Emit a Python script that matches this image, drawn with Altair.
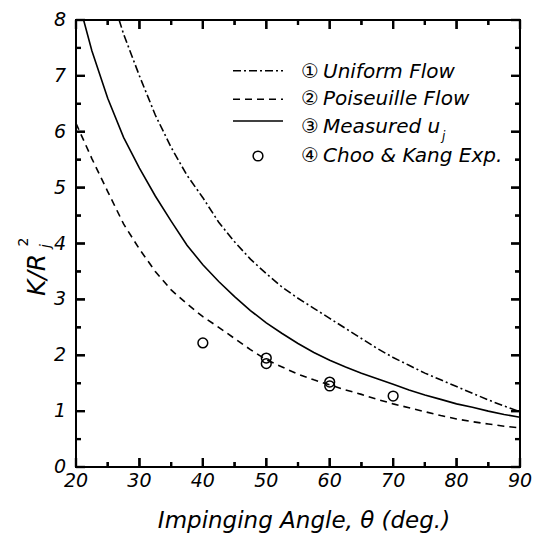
import altair as alt
import pandas as pd

# ---------------- data ----------------
theta_uniform = [26.8, 27.5, 30, 32.5, 35, 37.5, 40, 42.5, 45, 47.5, 50, 52.5, 55, 57.5,
                 60, 62.5, 65, 67.5, 70, 72.5, 75, 77.5, 80, 82.5, 85, 87.5, 90]
k_uniform = [8.0, 7.75, 7.0, 6.3, 5.72, 5.22, 4.82, 4.38, 4.03, 3.72, 3.46, 3.22, 3.02, 2.84,
             2.66, 2.48, 2.30, 2.12, 1.96, 1.82, 1.68, 1.56, 1.44, 1.32, 1.20, 1.09, 0.99]

theta_pois = [20, 22.5, 25, 27.5, 30, 32.5, 35, 37.5, 40, 42.5, 45, 47.5, 50, 52.5, 55, 57.5,
              60, 62.5, 65, 67.5, 70, 72.5, 75, 77.5, 80, 82.5, 85, 87.5, 90]
k_pois = [6.15, 5.52, 4.93, 4.35, 3.90, 3.50, 3.17, 2.92, 2.69, 2.50, 2.30, 2.10, 1.92, 1.79, 1.66, 1.56,
          1.47, 1.38, 1.30, 1.21, 1.13, 1.06, 0.99, 0.92, 0.86, 0.81, 0.77, 0.73, 0.70]

theta_meas = [21.2, 22.5, 25, 27.5, 30, 32.5, 35, 37.5, 40, 42.5, 45, 47.5, 50, 52.5, 55, 57.5,
              60, 62.5, 65, 67.5, 70, 72.5, 75, 77.5, 80, 82.5, 85, 87.5, 90]
k_meas = [8.0, 7.45, 6.6, 5.9, 5.35, 4.85, 4.40, 3.97, 3.62, 3.32, 3.05, 2.80, 2.58, 2.39, 2.21, 2.05,
          1.91, 1.79, 1.68, 1.58, 1.48, 1.38, 1.29, 1.21, 1.13, 1.07, 1.00, 0.94, 0.89]

theta_exp = [40, 50, 50, 60, 60, 70]
k_exp = [2.22, 1.95, 1.85, 1.52, 1.45, 1.27]

x_major = [20, 30, 40, 50, 60, 70, 80, 90]
x_minor = [25, 35, 45, 55, 65, 75, 85]
y_major = [0, 1, 2, 3, 4, 5, 6, 7, 8]
y_minor = [0.5, 1.5, 2.5, 3.5, 4.5, 5.5, 6.5, 7.5]
x_lo, x_hi = 20, 90
y_lo, y_hi = 0, 8

legend_nums = ["\u2460", "\u2461", "\u2462", "\u2463"]
legend_labels = ["Uniform Flow", "Poiseuille Flow", "Measured u", "Choo & Kang Exp."]
x_title = "Impinging Angle, \u03b8 (deg.)"

# ---------------- layout ----------------
W, H = 444, 447
FONT = "DejaVu Sans"
MAJ, MIN = 9, 5  # tick lengths in pixels
TICK_W = 2.2

xs = alt.Scale(domain=[x_lo, x_hi], nice=False, zero=False)
ys = alt.Scale(domain=[y_lo, y_hi], nice=False, zero=True)
X = alt.X("theta:Q", scale=xs, axis=None)
Y = alt.Y("K:Q", scale=ys, axis=None)

layers = []


def line_layer(th, k, dash=None):
    df = pd.DataFrame({"theta": th, "K": k})
    kw = dict(color="black", strokeWidth=1.6, clip=True)
    if dash:
        kw["strokeDash"] = dash
    return alt.Chart(df).mark_line(**kw).encode(x=X, y=Y)


layers.append(line_layer(theta_pois, k_pois, [7, 5]))
layers.append(line_layer(theta_uniform, k_uniform, [8, 3, 2, 3]))
layers.append(line_layer(theta_meas, k_meas))

layers.append(
    alt.Chart(pd.DataFrame({"theta": theta_exp, "K": k_exp}))
    .mark_point(shape="circle", filled=False, size=95, color="black", strokeWidth=1.5, opacity=1)
    .encode(x=X, y=Y)
)

# ---------------- tick labels and x title (drawn through the scales) ----------------
lab_x = pd.DataFrame({"theta": x_major, "lab": [str(v) for v in x_major]})
layers.append(alt.Chart(lab_x).mark_text(
    font=FONT, fontStyle="italic", fontSize=19, color="black", align="center", baseline="top")
    .encode(x=X, y=alt.value(H + 5), text="lab:N"))

lab_y = pd.DataFrame({"K": y_major, "lab": [str(v) for v in y_major]})
layers.append(alt.Chart(lab_y).mark_text(
    font=FONT, fontStyle="italic", fontSize=19, color="black", align="right", baseline="middle")
    .encode(x=alt.value(-10), y=Y, text="lab:N"))

layers.append(alt.Chart(pd.DataFrame({"a": [0]})).mark_text(
    text=x_title, font=FONT, fontStyle="italic", fontSize=23, color="black",
    align="center", baseline="alphabetic").encode(x=alt.value(228), y=alt.value(H + 61)))

# ---------------- legend ----------------
one = pd.DataFrame({"a": [0]})
row_text_y = [51.7, 79.3, 106.7, 136]
row_line_y = [50.7, 79.3, 101.0, 136]
dashes = [[8, 3, 2, 3], [7, 5], None]
LX0, LX1 = 157, 207
for i in range(3):
    kw = dict(color="black", strokeWidth=1.6)
    if dashes[i]:
        kw["strokeDash"] = dashes[i]
    layers.append(alt.Chart(one).mark_rule(**kw).encode(
        x=alt.value(LX0), x2=alt.value(LX1), y=alt.value(row_line_y[i])))
layers.append(alt.Chart(one).mark_point(shape="circle", filled=False, size=95, color="black",
                                        strokeWidth=1.5, opacity=1).encode(
    x=alt.value((LX0 + LX1) / 2), y=alt.value(row_line_y[3])))

for i in range(4):
    layers.append(alt.Chart(one).mark_text(
        text=legend_nums[i], font="DejaVu Sans", fontSize=20, color="black",
        align="center", baseline="middle").encode(x=alt.value(234), y=alt.value(row_text_y[i])))
    layers.append(alt.Chart(one).mark_text(
        text=legend_labels[i], font=FONT, fontStyle="italic", fontSize=20, color="black",
        align="left", baseline="middle").encode(x=alt.value(247), y=alt.value(row_text_y[i])))

# subscript j of "Measured u"
layers.append(alt.Chart(one).mark_text(
    text="j", font=FONT, fontStyle="italic", fontSize=12, color="black",
    align="left", baseline="middle").encode(x=alt.value(366), y=alt.value(116)))

# ---------------- y title K/R_j^2 ----------------
layers.append(alt.Chart(one).mark_text(
    text="K/R", font=FONT, fontStyle="italic", fontSize=25, color="black", angle=270,
    align="center", baseline="middle").encode(x=alt.value(-39), y=alt.value(255)))
layers.append(alt.Chart(one).mark_text(
    text="2", font=FONT, fontSize=14, color="black", angle=270,
    align="center", baseline="middle").encode(x=alt.value(-52), y=alt.value(222)))
layers.append(alt.Chart(one).mark_text(
    text="j", font=FONT, fontStyle="italic", fontSize=14, color="black", angle=270,
    align="center", baseline="middle").encode(x=alt.value(-30), y=alt.value(226)))

# ---------------- inward ticks on all four sides (drawn last, on top) ----------------
px_x = (x_hi - x_lo) / W   # data units per pixel
px_y = (y_hi - y_lo) / H
t1, t2, k1, k2 = [], [], [], []
for vals, length in ((x_major, MAJ), (x_minor, MIN)):
    for v in vals:
        for base, sgn in ((y_lo, 1), (y_hi, -1)):
            t1.append(v); t2.append(v)
            k1.append(base); k2.append(base + sgn * length * px_y)
for vals, length in ((y_major, MAJ), (y_minor, MIN)):
    for v in vals:
        for base, sgn in ((x_lo, 1), (x_hi, -1)):
            t1.append(base); t2.append(base + sgn * length * px_x)
            k1.append(v); k2.append(v)

rule_df = pd.DataFrame({"theta": t1, "theta2": t2, "K": k1, "K2": k2})
layers.append(alt.Chart(rule_df).mark_rule(color="#000000", strokeWidth=TICK_W, opacity=1,
                                           strokeCap="butt")
              .encode(x=X, x2="theta2:Q", y=Y, y2="K2:Q"))

seg_t, seg_k, seg_id = [], [], []
for i in range(len(t1)):
    seg_t += [t1[i], t2[i]]
    seg_k += [k1[i], k2[i]]
    seg_id += [i, i]
seg_df = pd.DataFrame({"theta": seg_t, "K": seg_k, "seg": seg_id})
layers.append(alt.Chart(seg_df).mark_line(color="#000000", strokeWidth=TICK_W, opacity=1,
                                          strokeCap="butt")
              .encode(x=X, y=Y, detail="seg:N"))

chart = alt.layer(*layers).properties(
    width=W, height=H,
    padding={"left": 76, "top": 20, "right": 27, "bottom": 75},
    autosize=alt.AutoSizeParams(type="none"),
    background="white",
).configure_view(stroke="black", strokeWidth=2)

chart.save("out.html", embed_options={"renderer": "svg", "actions": False})
